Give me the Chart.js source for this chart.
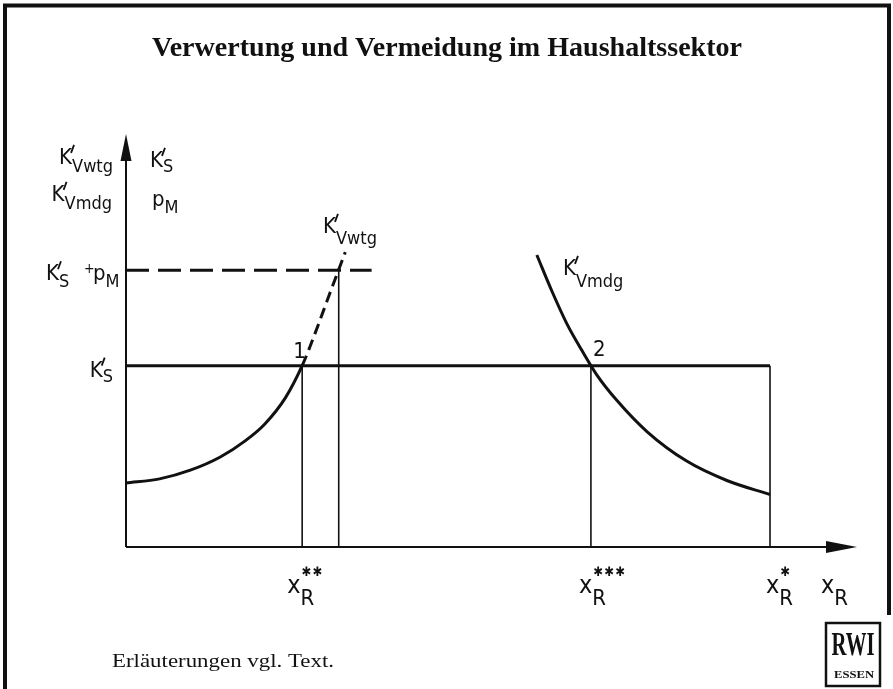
<!DOCTYPE html>
<html>
<head>
<meta charset="utf-8">
<title>Verwertung und Vermeidung im Haushaltssektor</title>
<script src="https://cdn.jsdelivr.net/npm/chart.js@4.4.1/dist/chart.umd.min.js"></script>
<style>
html, body { margin: 0; padding: 0; background: #fff; }
#wrap { width: 893px; height: 689px; }
</style>
</head>
<body>
<div id="wrap"><canvas id="chart" width="893" height="689"></canvas></div>
<script>
// x and y both in share of the axis length (0..100)
var wtgX = [0, 4.6, 8.8, 12.9, 16.3, 19.0, 21.8, 24.1, 25.9, 27.9, 30.0];
var wtgY = [15.5, 16.5, 18.6, 21.8, 25.7, 29.8, 36.1, 43.9, 51.9, 61.5, 71.4];
var mdgX = [56.2, 58.3, 60.3, 62.4, 64.4, 67.2, 71.3, 76.7, 82.2, 88.1];
var mdgY = [70.7, 61.8, 54.1, 47.5, 41.7, 35.4, 27.9, 20.8, 16.1, 12.7];
var levelKs = 43.9;      // K'S
var levelKsPm = 67;      // K'S + pM
var dashEndX = 33.6;
var xWtgTop = 29.1;      // where K'Vwtg meets K'S + pM
var xTickValues = [24.1, 63.6, 88.1];
var xTickStars = ["**", "***", "*"];
var pointLabels = ["1", "2"];

var ink = "#111";
var LAB = '"DejaVu Sans Condensed", "DejaVu Sans", sans-serif';

function pts(xs, ys) {
    return xs.map(function (x, i) { return {x: x, y: ys[i]}; });
}

function lineSet(data, width, dash, smooth) {
    return {
        data: data,
        borderColor: ink,
        borderWidth: width,
        borderDash: dash || [],
        borderCapStyle: "butt",
        pointRadius: 0,
        fill: false,
        clip: false,
        tension: 0,
        cubicInterpolationMode: smooth ? "monotone" : "default"
    };
}

var datasets = [
    lineSet([{x: 0, y: 0}, {x: 96, y: 0}], 2),
    lineSet([{x: 0, y: 0}, {x: 0, y: 94}], 2),
    lineSet([{x: 0, y: levelKs}, {x: xTickValues[2], y: levelKs}], 3),
    lineSet([{x: 0, y: levelKsPm}, {x: dashEndX, y: levelKsPm}], 3, [23, 9]),
    lineSet([{x: xWtgTop, y: 0}, {x: xWtgTop, y: levelKsPm}], 1.6)
];
xTickValues.forEach(function (v) {
    datasets.push(lineSet([{x: v, y: 0}, {x: v, y: levelKs}], 1.6));
});
// K'Vwtg: solid up to point 1, dashed above it
var wtg = lineSet(pts(wtgX, wtgY), 3, null, true);
wtg.segment = {
    borderDash: function (c) { return c.p0.parsed.x >= xTickValues[0] - 0.01 ? [11, 6] : undefined; }
};
datasets.push(wtg);
datasets.push(lineSet(pts(mdgX, mdgY), 3, null, true));

function lf(size) { return size + "px " + LAB; }

// base letter with a prime / stars on top and a subscript below, both starting after the base
function sym(ctx, x, y, base, sub, sup, s, dry) {
    ctx.font = lf(s.b);
    var w = ctx.measureText(base).width;
    if (!dry) ctx.fillText(base, x, y);
    var ws = 0;
    if (sub) {
        ctx.font = lf(s.s);
        ws = ctx.measureText(sub).width;
        if (!dry) ctx.fillText(sub, x + w, y + s.sd);
    }
    if (sup === "'") {
        if (!dry) {
            var top = y - s.b * 0.73;
            ctx.save();
            ctx.lineWidth = 1.8;
            ctx.beginPath();
            ctx.moveTo(x + w + 2, top - 3);
            ctx.lineTo(x + w - 1, top + 5);
            ctx.stroke();
            ctx.restore();
        }
    } else if (sup) {
        ctx.font = "13px " + LAB;
        for (var i = 0; i < sup.length; i++) {
            if (!dry) ctx.fillText("\u2731", x + w + 1 + i * 11, y + s.st);
        }
        ws = Math.max(ws, sup.length * 11);
    }
    return w + ws;
}

function symRight(ctx, xr, y, base, sub, sup, s) {
    var w = sym(ctx, 0, 0, base, sub, sup, s, true);
    sym(ctx, xr - w, y, base, sub, sup, s);
}

function fitText(ctx, text, font, cx, y, width, align) {
    ctx.font = font;
    var w = ctx.measureText(text).width;
    ctx.save();
    ctx.translate(align === "left" ? cx : cx - width / 2, y);
    ctx.scale(width / w, 1);
    ctx.textAlign = "left";
    ctx.fillText(text, 0, 0);
    ctx.restore();
}

var kStyle = {b: 22, s: 18, sd: 7};
var xStyle = {b: 25, s: 22, sd: 12, st: -17};
var xLabelShift = [-15, -12, -4];
var pointShift = [[-9, -8], [2, -10]];

var decor = {
    id: "decor",
    beforeDraw: function (chart) {
        var ctx = chart.ctx;
        ctx.save();
        ctx.fillStyle = "#fff";
        ctx.fillRect(0, 0, chart.width, chart.height);
        ctx.restore();
    },
    afterDatasetsDraw: function (chart) {
        var ctx = chart.ctx, xs = chart.scales.x, ys = chart.scales.y;
        var x0 = xs.getPixelForValue(0), y0 = ys.getPixelForValue(0);
        ctx.save();
        ctx.fillStyle = ink;
        ctx.strokeStyle = ink;

        // frame
        ctx.lineWidth = 4;
        ctx.beginPath(); ctx.moveTo(5, 689); ctx.lineTo(5, 5.5); ctx.lineTo(889, 5.5); ctx.lineTo(889, 615); ctx.stroke();

        // arrow heads
        var yt = ys.getPixelForValue(100), xt = xs.getPixelForValue(100);
        ctx.beginPath(); ctx.moveTo(x0, yt); ctx.lineTo(x0 + 5.5, yt + 27); ctx.lineTo(x0 - 5.5, yt + 27); ctx.closePath(); ctx.fill();
        ctx.beginPath(); ctx.moveTo(xt, y0); ctx.lineTo(xt - 31, y0 - 6); ctx.lineTo(xt - 31, y0 + 6); ctx.closePath(); ctx.fill();

        // title and footer
        ctx.textBaseline = "alphabetic";
        fitText(ctx, "Verwertung und Vermeidung im Haushaltssektor", "bold 27px 'Liberation Serif'", 447, 56, 590);
        fitText(ctx, "Erl\u00e4uterungen vgl. Text.", "18px 'Liberation Serif'", 112, 667, 222, "left");

        // RWI logo
        ctx.lineWidth = 2.5;
        ctx.strokeRect(826, 623, 54, 63);
        fitText(ctx, "RWI", "bold 34px 'Liberation Serif'", 853, 655, 43);
        fitText(ctx, "ESSEN", "bold 10px 'Liberation Serif'", 854, 678, 40);

        // y axis labels
        var yKs = ys.getPixelForValue(levelKs), yKp = ys.getPixelForValue(levelKsPm);
        symRight(ctx, 113, 164, "K", "Vwtg", "'", {b: 22, s: 18, sd: 8});
        symRight(ctx, 112, 201, "K", "Vmdg", "'", {b: 22, s: 18, sd: 8});
        sym(ctx, 46, yKp + 10, "K", "S", "'", kStyle);
        ctx.font = lf(14);
        ctx.fillText("+", 84, yKp + 3);
        sym(ctx, 93, yKp + 10, "p", "M", null, {b: 22, s: 18, sd: 7});
        symRight(ctx, 113, yKs + 11, "K", "S", "'", {b: 22, s: 18, sd: 5});
        sym(ctx, 150, 167, "K", "S", "'", {b: 22, s: 18, sd: 5});
        sym(ctx, 152, 206, "p", "M", null, {b: 22, s: 18, sd: 7});

        // curve labels
        sym(ctx, 323, 233, "K", "Vwtg", "'", {b: 22, s: 18, sd: 11});
        sym(ctx, 563, 275, "K", "Vmdg", "'", {b: 22, s: 18, sd: 12});

        // intersection numbers
        ctx.font = lf(22);
        [xTickValues[0], xTickValues[1]].forEach(function (v, i) {
            ctx.fillText(pointLabels[i], xs.getPixelForValue(v) + pointShift[i][0], yKs + pointShift[i][1]);
        });

        // x axis labels
        xTickValues.forEach(function (v, i) {
            sym(ctx, xs.getPixelForValue(v) + xLabelShift[i], 593, "x", "R", xTickStars[i], xStyle);
        });
        sym(ctx, 821, 593, "x", "R", null, xStyle);
        ctx.restore();
    }
};

new Chart(document.getElementById("chart"), {
    type: "line",
    data: {datasets: datasets},
    options: {
        responsive: false,
        animation: false,
        devicePixelRatio: 1,
        layout: {padding: {left: 126, right: 36, top: 134, bottom: 142}},
        scales: {
            x: {type: "linear", min: 0, max: 100, display: false},
            y: {type: "linear", min: 0, max: 100, display: false}
        },
        plugins: {legend: {display: false}, tooltip: {enabled: false}}
    },
    plugins: [decor]
});
</script>
</body>
</html>
